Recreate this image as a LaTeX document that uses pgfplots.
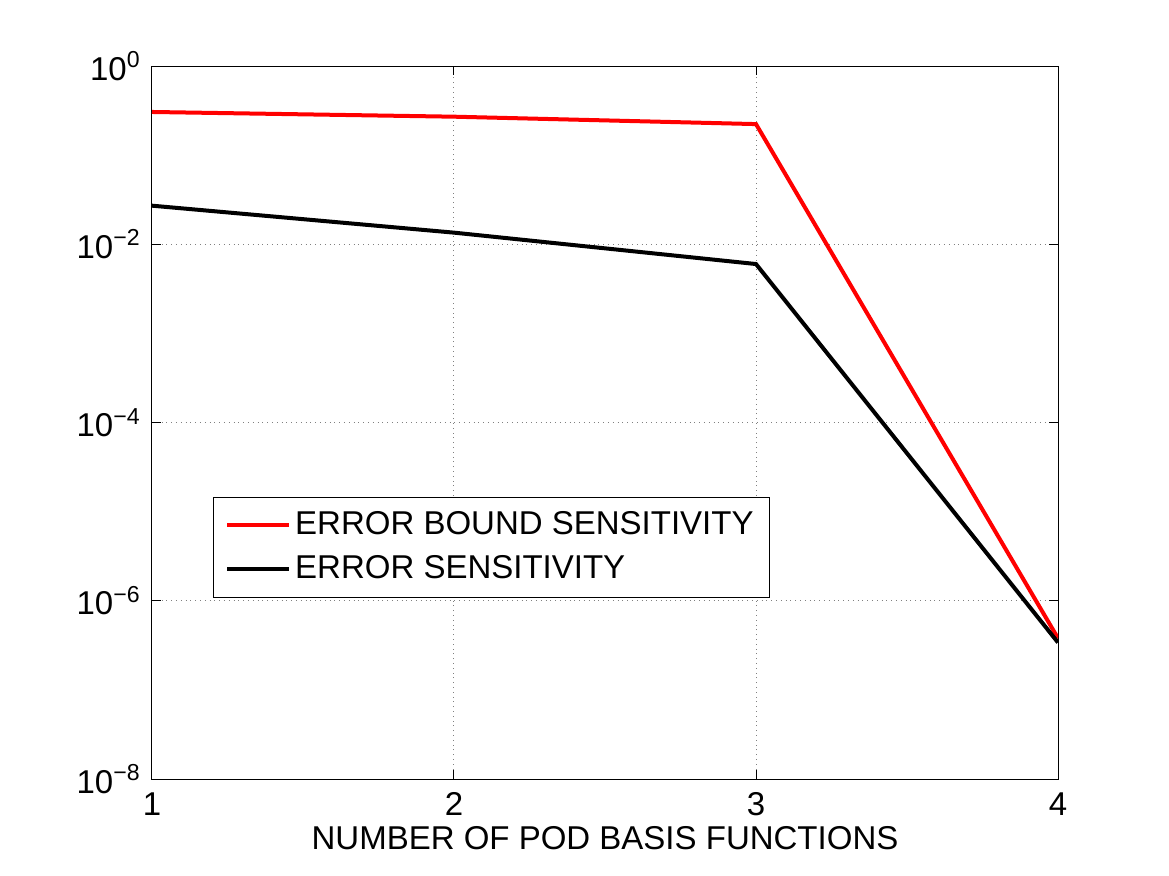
\documentclass[border=0pt]{standalone}
\usepackage{fontspec}
\setmainfont{Liberation Sans}
\usepackage{pgfplots}
\pgfplotsset{compat=1.18}
\begin{document}
\fontsize{16.5}{19}\selectfont
\begin{tikzpicture}
\begin{axis}[
  at={(0,0)}, anchor=south west,
  scale only axis,
  width=453pt, height=356.5pt,
  xmin=1, xmax=4,
  ymode=log, ymin=1e-8, ymax=1,
  xtick={1,2,3,4},
  ytick={1e-8,1e-6,1e-4,1e-2,1},
  yticklabels={10\textsuperscript{−8},10\textsuperscript{−6},10\textsuperscript{−4},10\textsuperscript{−2},10\textsuperscript{0}},
  minor ytick={},
  /pgf/number format/assume math mode=true,
  tick label style={font=\fontsize{16.5}{19}\selectfont},
  xticklabel style={yshift=-1pt},
  tick align=inside,
  major tick length=4.5pt,
  tick style={black, line width=0.5pt},
  axis line style={line width=0.5pt},
  grid=major,
  major grid style={dotted, gray, line width=0.5pt},
  xlabel={NUMBER OF POD BASIS FUNCTIONS},
  xlabel style={font=\fontsize{16.5}{19}\selectfont, yshift=6pt},
  legend style={at={(0.067,0.396)}, anchor=north west, font=\fontsize{16.5}{19}\selectfont, draw=black, line width=0.5pt, inner xsep=6pt, inner ysep=5pt, row sep=4pt},
  legend cell align=left,
  legend image code/.code={\draw[#1, line width=2pt] (0pt,0pt) -- (31pt,0pt);},
]
\addplot[red, line width=2pt] coordinates {(1,0.305) (2,0.27) (3,0.223) (4,3.8e-7)};
\addlegendentry{ERROR BOUND SENSITIVITY}
\addplot[black, line width=2pt] coordinates {(1,0.0271) (2,0.0135) (3,0.0060) (4,3.4e-7)};
\addlegendentry{ERROR SENSITIVITY}
\end{axis}
\pgfresetboundingbox
\path (-76pt,-48pt) rectangle (508.5pt,389.5pt);
\end{tikzpicture}
\end{document}
